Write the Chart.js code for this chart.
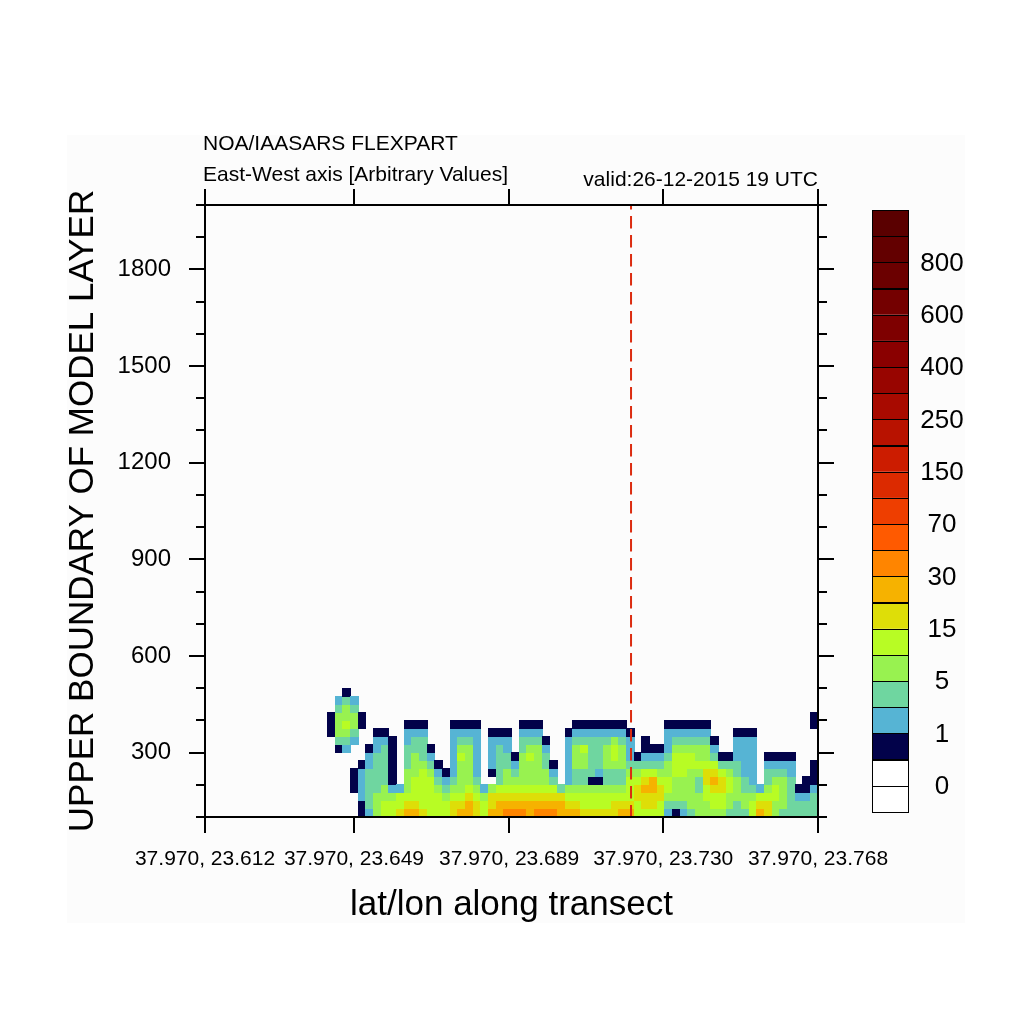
<!DOCTYPE html>
<html>
<head>
<meta charset="utf-8">
<script src="https://cdn.jsdelivr.net/npm/chart.js@4.4.0/dist/chart.umd.min.js"></script>
<style>
  html, body { margin: 0; padding: 0; background: #fff; }
  canvas { display: block; }
</style>
</head>
<body>
<canvas id="chart-transect" width="1024" height="1024"></canvas>
<script>
// tick labels along the transect (x = grid index 0..40)
var xTickVals = [0, 9.72, 19.84, 29.9, 40];
var xTickLabels = ['37.970, 23.612', '37.970, 23.649', '37.970, 23.689', '37.970, 23.730', '37.970, 23.768'];

// vertical axis (model layer top, m)
var yMin = 100;
var yMax = 2000;
var yMinorStep = 100;
var yLabelStep = 300;

// grid of concentration classes: one string per column (0.5 x-units wide),
// one char per row from bottom (rows of 25 m starting at 100 m)
var colStep = 0.5;
var rowStep = 25;
var gridBottom = 100;
var conc = [
    '0000000000000000', '0000000000000000', '0000000000000000', '0000000000000000',
    '0000000000000000', '0000000000000000', '0000000000000000', '0000000000000000',
    '0000000000000000', '0000000000000000', '0000000000000000', '0000000000000000',
    '0000000000000000', '0000000000000000', '0000000000000000', '0000000000000000',
    '0000000000111000', '0000000013444320', '0000000023454431', '0001110002344320',
    '1122221000011000', '2333332210000000', '4443333322100000', '5544333332100000',
    '5542111111000000', '6552000000000000', '7654443332210000', '7655544433210000',
    '6555554333210000', '5555543210000000', '5554321000000000', '5543210000000000',
    '6654322222210000', '7654444543210000', '7765444443210000', '6654322222210000',
    '5542000000000000', '7664012222100000', '7765333332100000', '8765443322100000',
    '8765432100000000', '8765444433210000', '7765444543210000', '8765444443210000',
    '8765443321000000', '8765321000000000', '7763000000000000', '7654222222100000',
    '7654334443210000', '6554334453210000', '6554133333210000', '6554123333210000',
    '6554334443210000', '6654334554210000', '7654334443210000', '7655543222100000',
    '5566543100000000', '5667653211000000', '5667753210000000', '5566543210000000',
    '2345544322210000', '1344455543210000', '2344455543210000', '3444445543210000',
    '4443345443210000', '4455665443210000', '4556765321000000', '4556653100000000',
    '3445543100000000', '3344433222100000', '3443322222100000', '5543222222100000',
    '7652000000000000', '6654332100000000', '4455432100000000', '3444432100000000',
    '3333322100000000', '3321000000000000', '3321100000000000', '3332111000011000'
];

// colour bar, bottom to top
var levelColors = ['#FFFFFF', '#FFFFFF', '#02024A', '#56B4D4', '#6FD6A0', '#98F250', '#B8FC24',
    '#DEDE08', '#F6B200', '#FF8500', '#FF5A00', '#EE3E00', '#DC2A00', '#CC1C00', '#B81200',
    '#A80A00', '#980500', '#8A0000', '#7E0000', '#740000', '#6B0000', '#630000', '#5A0000'];
var levelLabels = ['0', '1', '5', '15', '30', '70', '150', '250', '400', '600', '800'];

// position of the dashed marker on the transect
var markX = 27.8;

var FONT = "'Liberation Sans', Arial, Helvetica, sans-serif";

var bgPlugin = {
    id: 'bg',
    beforeDraw: function (chart) {
        var ctx = chart.ctx;
        ctx.save();
        ctx.fillStyle = '#ffffff';
        ctx.fillRect(0, 0, chart.width, chart.height);
        ctx.fillStyle = '#fcfcfc';
        ctx.fillRect(67, 135, 898, 788);
        ctx.restore();
    }
};

var contourPlugin = {
    id: 'contour',
    beforeDatasetsDraw: function (chart) {
        var ctx = chart.ctx, area = chart.chartArea;
        var xs = chart.scales.x, ys = chart.scales.y;
        ctx.save();
        ctx.beginPath();
        ctx.rect(area.left, area.top, area.right - area.left, area.bottom - area.top);
        ctx.clip();
        conc.forEach(function (col, c) {
            var x0 = Math.floor(xs.getPixelForValue(c * colStep));
            var x1 = Math.ceil(xs.getPixelForValue((c + 1) * colStep));
            for (var r = 0; r < col.length; r++) {
                var k = parseInt(col.charAt(r), 10);
                if (!k) continue;
                var yb = Math.ceil(ys.getPixelForValue(gridBottom + r * rowStep));
                var yt = Math.floor(ys.getPixelForValue(gridBottom + (r + 1) * rowStep));
                ctx.fillStyle = levelColors[k + 1];
                ctx.fillRect(x0, yt, x1 - x0, yb - yt);
            }
        });
        ctx.restore();
    }
};

//frame + tick marks (major/minor), NCL style outward ticks
var framePlugin = {
    id: 'frame',
    afterDatasetsDraw: function (chart) {
        var ctx = chart.ctx, a = chart.chartArea;
        var xs = chart.scales.x, ys = chart.scales.y;
        ctx.save();
        ctx.strokeStyle = '#000';
        ctx.lineWidth = 2;
        ctx.strokeRect(a.left, a.top, a.right - a.left, a.bottom - a.top);
        ctx.beginPath();
        ys.ticks.forEach(function (t) {
            var py = Math.round(ys.getPixelForValue(t.value));
            var len = (t.value % yLabelStep === 0) ? 16 : 9;
            ctx.moveTo(a.left - len, py); ctx.lineTo(a.left, py);
            ctx.moveTo(a.right, py); ctx.lineTo(a.right + len, py);
        });
        xs.ticks.forEach(function (t) {
            var px = Math.round(xs.getPixelForValue(t.value));
            ctx.moveTo(px, a.bottom); ctx.lineTo(px, a.bottom + 16);
            ctx.moveTo(px, a.top - 16); ctx.lineTo(px, a.top);
        });
        ctx.stroke();
        ctx.restore();
    },
    afterDraw: function (chart) {
        var ctx = chart.ctx, a = chart.chartArea;
        ctx.save();
        // header texts
        ctx.fillStyle = '#000';
        ctx.font = '21px ' + FONT;
        ctx.textBaseline = 'alphabetic';
        ctx.textAlign = 'left';
        ctx.fillText('NOA/IAASARS FLEXPART', 203, 150);
        ctx.fillText('East-West axis [Arbitrary Values]', 203, 181);
        ctx.textAlign = 'right';
        ctx.fillText('valid:26-12-2015 19 UTC', a.right, 186);

        // colour bar
        var cbLeft = 872, cbW = 36, cbBottom = 812, cbTop = 210;
        var n = levelColors.length;
        var h = (cbBottom - cbTop) / n;
        ctx.lineWidth = 1;
        ctx.strokeStyle = '#000';
        for (var i = 0; i < n; i++) {
            var yb = cbBottom - i * h;
            ctx.fillStyle = levelColors[i];
            ctx.fillRect(cbLeft, yb - h, cbW, h);
            ctx.strokeRect(cbLeft + 0.5, Math.round(yb - h) + 0.5, cbW, Math.round(h));
        }
        ctx.fillStyle = '#000';
        ctx.font = '26px ' + FONT;
        ctx.textAlign = 'center';
        ctx.textBaseline = 'middle';
        levelLabels.forEach(function (lab, j) {
            ctx.fillText(lab, 942, cbBottom - (2 * j + 1) * h + 1);
        });
        ctx.restore();
    }
};

var ctx_transect = document.getElementById('chart-transect').getContext('2d');
var myChart_transect = new Chart(ctx_transect, {
    type: 'scatter',
    data: {
        datasets: [{
            label: 'marker',
            data: [{ x: markX, y: yMax }, { x: markX, y: yMin }],
            showLine: true,
            borderColor: '#DC2C10',
            borderWidth: 2,
            borderDash: [12.5, 6.5],
            borderDashOffset: 8,
            pointRadius: 0,
            xAxisID: 'x',
            yAxisID: 'y'
        }]
    },
    options: {
        responsive: false,
        animation: false,
        devicePixelRatio: 1,
        layout: { padding: 0 },
        plugins: { legend: { display: false }, tooltip: { enabled: false } },
        scales: {
            x: {
                type: 'linear', position: 'bottom', min: 0, max: 40,
                afterBuildTicks: function (axis) { axis.ticks = xTickVals.map(function (v) { return { value: v }; }); },
                afterFit: function (axis) { axis.height = 1024 - 817; },
                grid: { display: false, drawTicks: false },
                border: { display: false },
                ticks: {
                    autoSkip: false, maxRotation: 0, padding: 30, color: '#000',
                    font: { family: FONT, size: 21 },
                    callback: function (v, i) { return xTickLabels[i]; }
                },
                title: {
                    display: true, text: 'lat/lon along transect', color: '#000',
                    font: { family: FONT, size: 35 }, padding: { top: 0, bottom: 98 }
                }
            },
            x2: {
                type: 'linear', position: 'top', min: 0, max: 40,
                afterBuildTicks: function (axis) { axis.ticks = xTickVals.map(function (v) { return { value: v }; }); },
                afterFit: function (axis) { axis.height = 205; },
                grid: { display: false, drawTicks: false },
                border: { display: false },
                ticks: { display: false }
            },
            y: {
                type: 'linear', position: 'left', min: yMin, max: yMax,
                afterFit: function (axis) { axis.width = 205; },
                grid: { display: false, drawTicks: false },
                border: { display: false },
                ticks: {
                    stepSize: yMinorStep, autoSkip: false, padding: 34, color: '#000',
                    font: { family: FONT, size: 24 },
                    callback: function (v) { return v % yLabelStep === 0 ? String(v) : ''; }
                },
                title: {
                    display: true, text: 'UPPER BOUNDARY OF MODEL LAYER', color: '#000',
                    font: { family: FONT, size: 35 }, padding: { top: 62, bottom: 0 }
                }
            },
            y2: {
                type: 'linear', position: 'right', min: yMin, max: yMax,
                afterFit: function (axis) { axis.width = 1024 - 818; },
                grid: { display: false, drawTicks: false },
                border: { display: false },
                ticks: { display: false }
            }
        }
    },
    plugins: [bgPlugin, contourPlugin, framePlugin]
});
</script>
</body>
</html>
